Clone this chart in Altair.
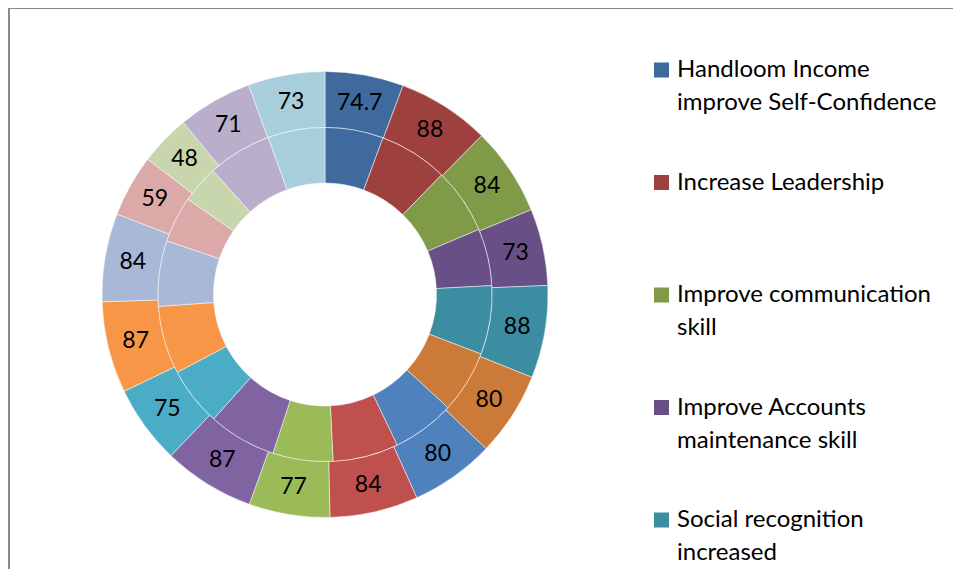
import altair as alt
import pandas as pd

# ---- data ----
outer_values = [74.7, 88, 84, 73, 88, 80, 80, 84, 77, 87, 75, 87, 84, 59, 48, 71, 73]
inner_values = [74.7, 88, 84, 73, 88, 80, 80, 84, 77, 87, 75, 87, 84, 59, 48, 82, 73]
slice_colors = [
    "#3F6A9D", "#9E413E", "#7F9B48", "#684F86", "#3C8CA2", "#CB7A38",
    "#4F81BD", "#C0504D", "#9BBB59", "#8064A2", "#4BACC6", "#F79646",
    "#A9B8D7", "#DBA9A8", "#C7D6AD", "#BAAFCB", "#A8CEDC",
]
legend_names = [
    "Handloom Income|improve Self-Confidence",
    "Increase Leadership",
    "Improve communication|skill",
    "Improve Accounts|maintenance skill",
    "Social recognition|increased",
]

outer_df = pd.DataFrame({
    "idx": list(range(len(outer_values))),
    "value": outer_values,
    "label": [f"{v:g}" for v in outer_values],
})
inner_df = pd.DataFrame({
    "idx": list(range(len(inner_values))),
    "value": inner_values,
})
legend_df = pd.DataFrame({"idx": list(range(len(legend_names))), "name": legend_names})
frame_df = pd.DataFrame({"k": [0]})

CX, CY = 317, 286.5
FONT = "Lato"

color = alt.Color(
    "idx:O",
    scale=alt.Scale(domain=list(range(len(slice_colors))), range=slice_colors),
    legend=None,
)

outer = alt.Chart(outer_df).mark_arc(
    radius=223, radius2=167, stroke="#ffffff", strokeWidth=0.5
).encode(
    theta=alt.Theta("value:Q", stack=True),
    order=alt.Order("idx:Q"),
    color=color,
    x=alt.value(CX),
    y=alt.value(CY),
)

inner = alt.Chart(inner_df).mark_arc(
    radius=167, radius2=111.5, stroke="#ffffff", strokeWidth=0.5
).encode(
    theta=alt.Theta("value:Q", stack=True),
    order=alt.Order("idx:Q"),
    color=color,
    x=alt.value(CX),
    y=alt.value(CY),
)

labels = alt.Chart(outer_df).mark_text(
    radius=195, font=FONT, fontSize=23, color="#000000", baseline="middle", align="center"
).encode(
    theta=alt.Theta("value:Q", stack=True),
    order=alt.Order("idx:Q"),
    text=alt.Text("label:N"),
    x=alt.value(CX),
    y=alt.value(CY),
)

leg_y = alt.Y("idx:Q", scale=alt.Scale(domain=[0, 4], range=[62, 512]), axis=None)

leg_sym = alt.Chart(legend_df).mark_square(size=225, opacity=1).encode(
    x=alt.value(653.5),
    y=leg_y,
    color=color,
)

leg_txt = alt.Chart(legend_df).mark_text(
    align="left", baseline="alphabetic", dy=7, lineBreak="|", lineHeight=33,
    font=FONT, fontSize=24, color="#000000",
).encode(
    x=alt.value(669),
    y=leg_y,
    text=alt.Text("name:N"),
)

frame_top = alt.Chart(frame_df).mark_rule(color="#8A8A8A", strokeWidth=2).encode(
    x=alt.value(1), x2=alt.value(945), y=alt.value(0)
)
frame_left = alt.Chart(frame_df).mark_rule(color="#8A8A8A", strokeWidth=2).encode(
    x=alt.value(1), y=alt.value(0), y2=alt.value(561)
)

chart = alt.layer(
    frame_top, frame_left, outer, inner, labels, leg_sym, leg_txt
).resolve_scale(
    theta="independent"
).properties(
    width=945, height=561, autosize=alt.AutoSizeParams(type="none"), padding=0,
    background="#ffffff",
).configure_view(strokeWidth=0)

chart.save("out.html", embed_options={"renderer": "svg", "actions": False})
